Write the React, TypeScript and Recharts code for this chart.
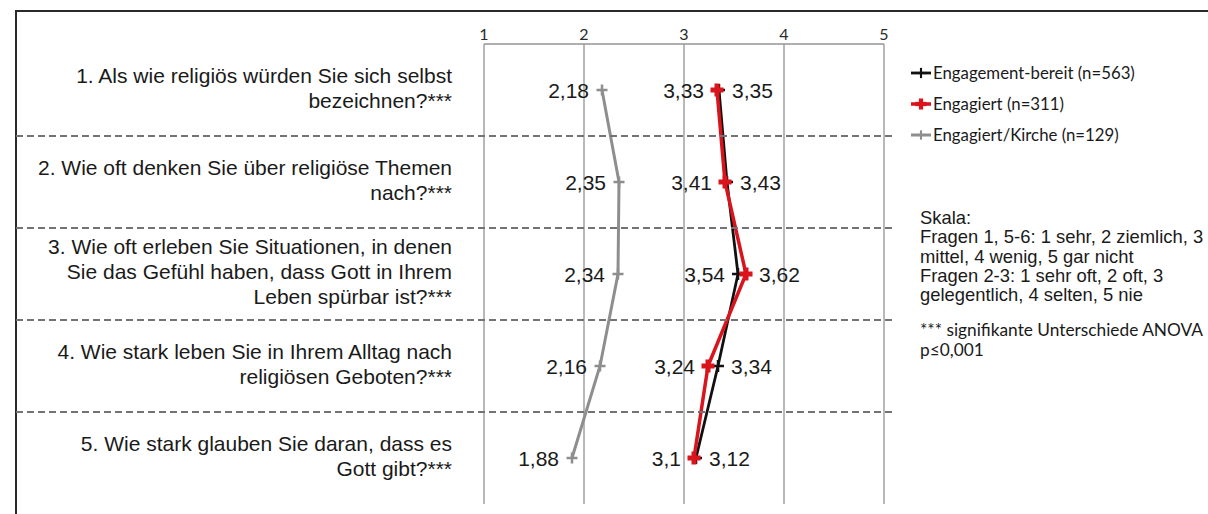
import React from 'react';
import { LineChart, Line, XAxis, YAxis, CartesianGrid, LabelList } from 'recharts';

// ---- data ----
const questions = [
  '1. Als wie religiös würden Sie sich selbst\nbezeichnen?***',
  '2. Wie oft denken Sie über religiöse Themen\nnach?***',
  '3. Wie oft erleben Sie Situationen, in denen\nSie das Gefühl haben, dass Gott in Ihrem\nLeben spürbar ist?***',
  '4. Wie stark leben Sie in Ihrem Alltag nach\nreligiösen Geboten?***',
  '5. Wie stark glauben Sie daran, dass es\nGott gibt?***',
];
const bereit = [3.35, 3.43, 3.54, 3.34, 3.12];
const engagiert = [3.33, 3.41, 3.62, 3.24, 3.1];
const kirche = [2.18, 2.35, 2.34, 2.16, 1.88];

const scaleTicks = [1, 2, 3, 4, 5];

const seriesNames = ['Engagement-bereit (n=563)', 'Engagiert (n=311)', 'Engagiert/Kirche (n=129)'];
const skalaLines = [
  'Skala:',
  'Fragen 1, 5-6: 1 sehr, 2 ziemlich, 3',
  'mittel, 4 wenig, 5 gar nicht',
  'Fragen 2-3: 1 sehr oft, 2 oft, 3',
  'gelegentlich, 4 selten, 5 nie',
];
const noteLines = ['*** signifikante Unterschiede ANOVA', 'p≤0,001'];

const data = questions.map((q, i) => ({
  q,
  bereit: bereit[i],
  engagiert: engagiert[i],
  kirche: kirche[i],
}));

// ---- styles ----
const ARIAL = '"Liberation Sans", Arial, sans-serif';
const CALIBRI = 'Lato, "Open Sans", sans-serif';
const SEP_LEFT = 16;
const SEP_RIGHT = 892;

const SERIES = [
  { key: 'bereit', name: seriesNames[0], color: '#111111', width: 2.8, arm: 6, thick: 2.5 },
  { key: 'engagiert', name: seriesNames[1], color: '#d9141c', width: 3.5, arm: 6.5, thick: 5 },
  { key: 'kirche', name: seriesNames[2], color: '#8e8e8e', width: 3, arm: 5.5, thick: 2.5 },
];

const valuesOf: Record<string, number[]> = { bereit, engagiert, kirche };

const fmt = (v: number) => String(v).replace('.', ',');

// smaller of the two close series is labelled on the left
function labelSide(key: string, i: number) {
  if (key === 'kirche') return 'left';
  const own = valuesOf[key][i];
  const other = key === 'bereit' ? engagiert[i] : bereit[i];
  return own < other ? 'left' : 'right';
}

function plusDot(s: (typeof SERIES)[number]) {
  return (p: any) => {
    const { cx, cy, index } = p;
    if (cx == null || cy == null) return <g key={`${s.key}-${index}`} />;
    const a = s.arm;
    const t = s.thick;
    return (
      <g key={`${s.key}-${index}`} fill={s.color}>
        <rect x={cx - a} y={cy - t / 2} width={a * 2} height={t} />
        <rect x={cx - t / 2} y={cy - a} width={t} height={a * 2} />
      </g>
    );
  };
}

function valueLabel(key: string) {
  return (p: any) => {
    const { x, y, value, index } = p;
    const left = labelSide(key, index) === 'left';
    return (
      <text
        x={left ? x - 13 : x + 13}
        y={y + 1}
        dy="0.35em"
        textAnchor={left ? 'end' : 'start'}
        fontSize={21}
        fontFamily={ARIAL}
        fill="#1a1a1a"
      >
        {fmt(value)}
      </text>
    );
  };
}

// question label plus the dashed separator on the lower band edge
const QuestionTick = (p: any) => {
  const { x, y, payload, index } = p;
  const lines = String(payload.value).split('\n');
  const lh = 25;
  const y0 = y - ((lines.length - 1) * lh) / 2 - 2;
  const half = payload.offset;
  const sepY = typeof half === 'number' ? y + half : null;
  return (
    <g>
      {sepY != null && index < questions.length - 1 && (
        <line
          x1={SEP_LEFT}
          x2={SEP_RIGHT}
          y1={sepY}
          y2={sepY}
          stroke="#737373"
          strokeWidth={2}
          strokeDasharray="7 4"
        />
      )}
      <text textAnchor="end" fontSize={21} fontFamily={ARIAL} fill="#1a1a1a">
        {lines.map((l, k) => (
          <tspan key={k} x={x} y={y0 + k * lh} dy="0.35em">
            {l}
          </tspan>
        ))}
      </text>
    </g>
  );
};

function LegendIcon({ s }: { s: (typeof SERIES)[number] }) {
  const a = s.arm * 0.85;
  const t = s.thick * 0.85;
  return (
    <svg width={20} height={16} style={{ display: 'block' }}>
      <line x1={0} y1={8} x2={20} y2={8} stroke={s.color} strokeWidth={s.width} />
      <rect x={10 - t / 2} y={8 - a} width={t} height={a * 2} fill={s.color} />
      <rect x={10 - a} y={8 - t / 2} width={a * 2} height={t} fill={s.color} />
    </svg>
  );
}

export default function App() {
  return (
    <div
      style={{
        position: 'absolute',
        left: 0,
        top: 0,
        width: 1208,
        height: 514,
        overflow: 'hidden',
        background: '#ffffff',
      }}
    >
      {/* frame */}
      <div
        style={{
          position: 'absolute',
          left: 15,
          top: 10,
          width: 1400,
          height: 700,
          borderTop: '2px solid #2a2a2a',
          borderLeft: '2px solid #2a2a2a',
        }}
      />

      <div style={{ position: 'absolute', left: 0, top: 0 }}>
        <LineChart
          width={1208}
          height={514}
          data={data}
          layout="vertical"
          margin={{ top: 14, right: 324, bottom: 10, left: 0 }}
        >
          <CartesianGrid vertical horizontal={false} stroke="#949494" strokeWidth={1.3} />
          <XAxis
            type="number"
            orientation="top"
            domain={[1, 5]}
            ticks={scaleTicks}
            height={30}
            tickLine={false}
            tickSize={0}
            tickMargin={4}
            axisLine={{ stroke: '#949494', strokeWidth: 1.3 }}
            tick={{ fontSize: 16, fontFamily: CALIBRI, fill: '#2a2a2a' }}
          />
          <YAxis
            type="category"
            dataKey="q"
            scale="band"
            width={484}
            axisLine={false}
            tickLine={false}
            tickSize={0}
            tickMargin={32}
            interval={0}
            tick={QuestionTick}
          />
          {SERIES.map((s) => (
            <Line
              key={s.key}
              dataKey={s.key}
              name={s.name}
              type="linear"
              stroke={s.color}
              strokeWidth={s.width}
              dot={plusDot(s)}
              activeDot={false}
              isAnimationActive={false}
            >
              <LabelList dataKey={s.key} content={valueLabel(s.key)} />
            </Line>
          ))}
        </LineChart>
      </div>

      {/* legend */}
      <div style={{ position: 'absolute', left: 911, top: 57 }}>
        {SERIES.map((s) => (
          <div
            key={s.key}
            style={{ display: 'flex', alignItems: 'center', height: 31, whiteSpace: 'nowrap' }}
          >
            <LegendIcon s={s} />
            <span style={{ fontFamily: CALIBRI, fontSize: 16.8, color: '#1a1a1a', marginLeft: 2 }}>{s.name}</span>
          </div>
        ))}
      </div>

      {/* scale note */}
      <div
        style={{
          position: 'absolute',
          left: 920,
          top: 208,
          fontFamily: ARIAL,
          fontSize: 18.4,
          lineHeight: '19.3px',
          color: '#1a1a1a',
          whiteSpace: 'nowrap',
        }}
      >
        {skalaLines.map((l) => (
          <div key={l}>{l}</div>
        ))}
      </div>
      <div
        style={{
          position: 'absolute',
          left: 920,
          top: 320,
          fontFamily: CALIBRI,
          fontSize: 17.3,
          lineHeight: '20px',
          color: '#1a1a1a',
          whiteSpace: 'nowrap',
        }}
      >
        {noteLines.map((l) => (
          <div key={l}>{l}</div>
        ))}
      </div>
    </div>
  );
}
